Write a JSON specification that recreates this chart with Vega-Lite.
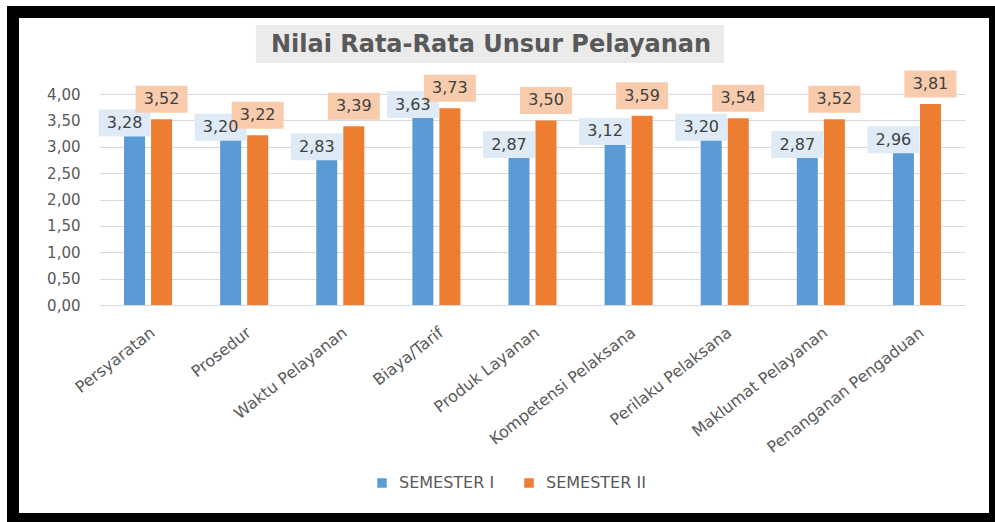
{
  "$schema": "https://vega.github.io/schema/vega-lite/v6.json",
  "autosize": {"type": "none"},
  "padding": {"left": 13, "top": 12, "right": 0, "bottom": 3},
  "width": 982,
  "height": 507,
  "background": "white",
  "title": {"text": "Nilai Rata-Rata Unsur Pelayanan", "anchor": "middle", "frame": "group", "offset": -45, "dx": -13, "font": "DejaVu Sans", "fontSize": 24, "fontWeight": "bold", "color": "#595959"},
  "config": {
    "locale": {"number": {"decimal": ",", "thousands": ".", "grouping": [3], "currency": ["Rp", ""]}},
    "view": {"stroke": "black", "strokeWidth": 12, "fill": "white"},
    "font": "DejaVu Sans"
  },
  "data": {"values": [
    {"unsur": "Persyaratan", "semester": "SEMESTER I", "nilai": 3.28},
    {"unsur": "Persyaratan", "semester": "SEMESTER II", "nilai": 3.52},
    {"unsur": "Prosedur", "semester": "SEMESTER I", "nilai": 3.20},
    {"unsur": "Prosedur", "semester": "SEMESTER II", "nilai": 3.22},
    {"unsur": "Waktu Pelayanan", "semester": "SEMESTER I", "nilai": 2.83},
    {"unsur": "Waktu Pelayanan", "semester": "SEMESTER II", "nilai": 3.39},
    {"unsur": "Biaya/Tarif", "semester": "SEMESTER I", "nilai": 3.63},
    {"unsur": "Biaya/Tarif", "semester": "SEMESTER II", "nilai": 3.73},
    {"unsur": "Produk Layanan", "semester": "SEMESTER I", "nilai": 2.87},
    {"unsur": "Produk Layanan", "semester": "SEMESTER II", "nilai": 3.50},
    {"unsur": "Kompetensi Pelaksana", "semester": "SEMESTER I", "nilai": 3.12},
    {"unsur": "Kompetensi Pelaksana", "semester": "SEMESTER II", "nilai": 3.59},
    {"unsur": "Perilaku Pelaksana", "semester": "SEMESTER I", "nilai": 3.20},
    {"unsur": "Perilaku Pelaksana", "semester": "SEMESTER II", "nilai": 3.54},
    {"unsur": "Maklumat Pelayanan", "semester": "SEMESTER I", "nilai": 2.87},
    {"unsur": "Maklumat Pelayanan", "semester": "SEMESTER II", "nilai": 3.52},
    {"unsur": "Penanganan Pengaduan", "semester": "SEMESTER I", "nilai": 2.96},
    {"unsur": "Penanganan Pengaduan", "semester": "SEMESTER II", "nilai": 3.81}
  ]},
  "layer": [
    {
      "encoding": {
        "x": {"field": "unsur", "type": "nominal", "sort": null,
          "scale": {"range": [87, 952], "paddingInner": 0.5, "paddingOuter": 0.25},
          "axis": {"title": null, "labelAngle": -38, "labelPadding": 19, "labelFontSize": 16, "labelLimit": 0, "labelColor": "#595959", "ticks": false, "domain": false, "offset": -214}},
        "xOffset": {"field": "semester", "type": "nominal", "scale": {"paddingInner": 0.222, "paddingOuter": 0}},
        "y": {"field": "nilai", "type": "quantitative",
          "scale": {"domain": [0, 4], "range": [293, 82], "nice": false},
          "axis": {"title": null, "values": [0, 0.5, 1, 1.5, 2, 2.5, 3, 3.5, 4], "format": ".2f", "offset": -87, "labelPadding": 20, "ticks": false, "domain": false, "gridColor": "#D9D9D9", "labelFontSize": 15, "labelColor": "#595959"}}
      },
      "layer": [
        {
          "mark": {"type": "bar"},
          "encoding": {
            "color": {"field": "semester", "type": "nominal",
              "scale": {"domain": ["SEMESTER I", "SEMESTER II"], "range": ["#5B9BD5", "#ED7D31"]},
              "legend": {"orient": "none", "legendX": 361, "legendY": 463, "direction": "horizontal", "title": null, "symbolType": "square", "symbolSize": 90, "symbolStrokeWidth": 0, "labelFontSize": 16, "labelColor": "#595959", "columnPadding": 26, "labelOffset": 9, "padding": 0}}
          }
        },
        {
          "transform": [{"filter": "datum.semester == 'SEMESTER I'"}],
          "mark": {"type": "point", "shape": "M-1.385,-0.865H0.615V0.173H-1.385Z", "size": 2704, "filled": true, "fill": "#DEEBF7", "opacity": 1, "strokeWidth": 0}
        },
        {
          "transform": [{"filter": "datum.semester == 'SEMESTER II'"}],
          "mark": {"type": "point", "shape": "M-1,-1.288H1V-0.25H-1Z", "size": 2704, "filled": true, "fill": "#F8CBAD", "opacity": 1, "strokeWidth": 0}
        },
        {
          "transform": [{"filter": "datum.semester == 'SEMESTER I'"}],
          "mark": {"type": "text", "dx": -10, "dy": -9, "baseline": "middle", "align": "center", "fontSize": 16, "color": "#404040"},
          "encoding": {"text": {"field": "nilai", "type": "quantitative", "format": ".2f"}}
        },
        {
          "transform": [{"filter": "datum.semester == 'SEMESTER II'"}],
          "mark": {"type": "text", "dx": 0, "dy": -20, "baseline": "middle", "align": "center", "fontSize": 16, "color": "#404040"},
          "encoding": {"text": {"field": "nilai", "type": "quantitative", "format": ".2f"}}
        }
      ]
    },
    {
      "data": {"values": [{"kotak": "judul"}]},
      "mark": {"type": "point", "shape": "M-1.182,-0.0812H0.818V0.0812H-1.182Z", "size": 219024, "filled": true, "fill": "#EBEBEB", "opacity": 1, "strokeWidth": 0},
      "encoding": {"x": {"datum": "Produk Layanan"}, "y": {"datum": 4.95}}
    }
  ]
}
